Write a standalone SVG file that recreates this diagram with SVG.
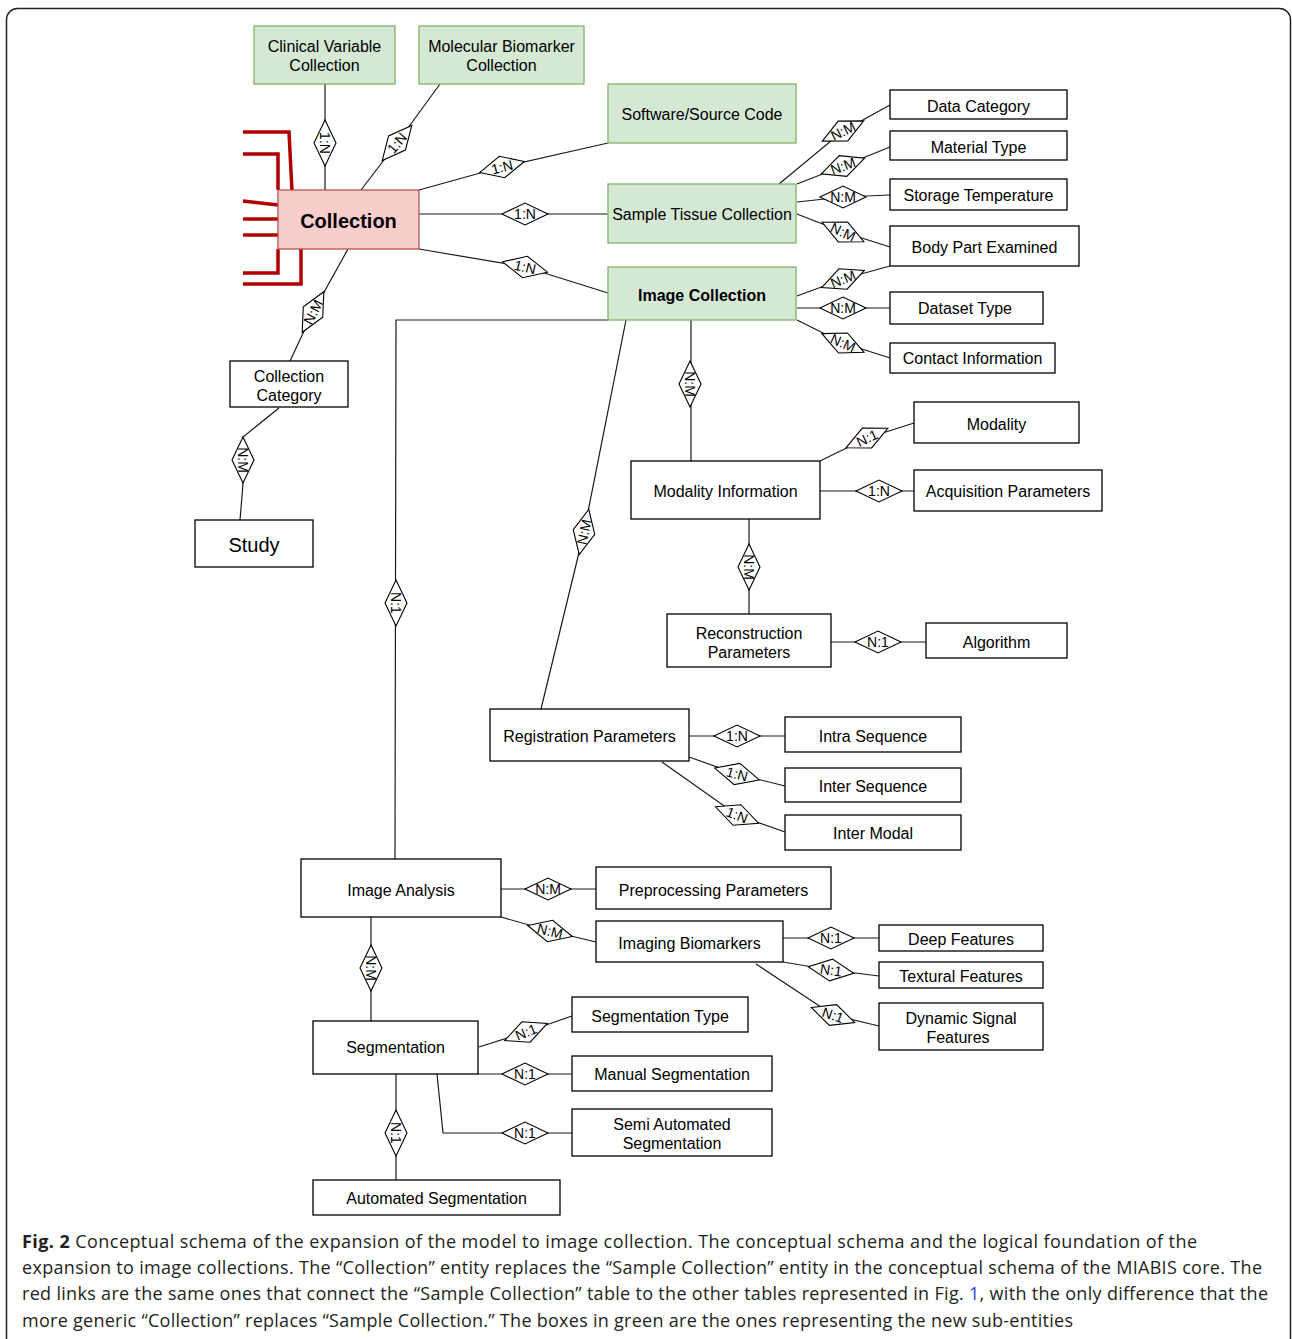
<svg xmlns="http://www.w3.org/2000/svg" xmlns:xlink="http://www.w3.org/1999/xlink" width="1292" height="1339" viewBox="0 0 1292 1339">
<style>
.g{fill:#d5e8d4;stroke:#82b366;stroke-width:1.3}
.p{fill:#f8cecc;stroke:#b85450;stroke-width:1.3}
.w{fill:#fff;stroke:#000;stroke-width:1.3}
.t{font-family:"Liberation Sans",Arial,Helvetica,sans-serif;font-size:16px;text-anchor:middle;fill:#000}
.b{font-weight:bold}
.ln{fill:none;stroke:#1a1a1a;stroke-width:1.2}
.red{fill:none;stroke:#b20000;stroke-width:3.5}
.dm{fill:#fff;stroke:#000;stroke-width:1.1}
.dl{font-family:"Liberation Sans",Arial,Helvetica,sans-serif;font-size:14px;text-anchor:middle;fill:#000}
.cap{font-family:"Open Sans","Noto Sans",sans-serif;font-size:18px;fill:#231f20}
</style>
<defs>
<polygon id="dmd" class="dm" points="-23,0 0,-11 23,0 0,11"/>
</defs>
<rect x="6.5" y="8.5" width="1284" height="1350" rx="11" fill="#fff" stroke="#222" stroke-width="1.5"/>

<g id="connectors">
<g id="red-links">
<polyline class="red" points="243,132 289,132 292,191"/>
<polyline class="red" points="243,154 278,154 278,190"/>
<polyline class="red" points="243,201 278,205"/>
<polyline class="red" points="243,219 278,219"/>
<polyline class="red" points="243,235 278,235"/>
<polyline class="red" points="243,273 278,273 278,249"/>
<polyline class="red" points="243,284 301,284 301,249"/>
</g>
<polyline class="ln" points="325,84 325,190"/>
<polyline class="ln" points="440,84 397,143 361,190"/>
<polyline class="ln" points="419,190 502,167 608,143"/>
<polyline class="ln" points="419,214 608,214"/>
<polyline class="ln" points="419,249 525,267 608,293"/>
<polyline class="ln" points="348,249 313,312 290,361"/>
<polyline class="ln" points="279,408 243,437 243,484 240,520"/>
<polyline class="ln" points="779,184 843,131 890,105"/>
<polyline class="ln" points="797,184 843,166 890,147"/>
<polyline class="ln" points="797,202 843,197 890,195"/>
<polyline class="ln" points="797,214 843,232 890,247"/>
<polyline class="ln" points="797,296 843,279 890,266"/>
<polyline class="ln" points="797,308 890,308"/>
<polyline class="ln" points="797,320 843,343 890,358"/>
<polyline class="ln" points="691,320 691,461"/>
<polyline class="ln" points="626,320 584,532 541,709"/>
<polyline class="ln" points="608,320 396,320 395,859"/>
<polyline class="ln" points="820,461 867,438 914,423"/>
<polyline class="ln" points="820,491 914,491"/>
<polyline class="ln" points="749,519 749,614"/>
<polyline class="ln" points="831,642 926,642"/>
<polyline class="ln" points="689,736 785,736"/>
<polyline class="ln" points="689,757 737,774 785,786"/>
<polyline class="ln" points="662,762 737,815 785,832"/>
<polyline class="ln" points="501,889 596,889"/>
<polyline class="ln" points="501,917 550,931 596,942"/>
<polyline class="ln" points="371,917 371,1021"/>
<polyline class="ln" points="783,938 879,938"/>
<polyline class="ln" points="783,962 831,970 879,976"/>
<polyline class="ln" points="756,964 833,1015 879,1026"/>
<polyline class="ln" points="479,1047 526,1032 572,1016"/>
<polyline class="ln" points="478,1074 572,1074"/>
<polyline class="ln" points="437,1074 443,1133 572,1133"/>
<polyline class="ln" points="396,1074 396,1180"/>

<g transform="translate(325,143) rotate(90)"><use href="#dmd"/><text class="dl" y="5">1:N</text></g>
<g transform="translate(397,143) rotate(-50)"><use href="#dmd"/><text class="dl" y="5">1:N</text></g>
<g transform="translate(502,167) rotate(-14)"><use href="#dmd"/><text class="dl" y="5">1:N</text></g>
<g transform="translate(525,214)"><use href="#dmd"/><text class="dl" y="5">1:N</text></g>
<g transform="translate(525,267) rotate(13)"><use href="#dmd"/><text class="dl" y="5">1:N</text></g>
<g transform="translate(313,312) rotate(-62)"><use href="#dmd"/><text class="dl" y="5">N:M</text></g>
<g transform="translate(243,460) rotate(90)"><use href="#dmd"/><text class="dl" y="5">N:M</text></g>
<g transform="translate(843,131) rotate(-26)"><use href="#dmd"/><text class="dl" y="5">N:M</text></g>
<g transform="translate(843,166) rotate(-20)"><use href="#dmd"/><text class="dl" y="5">N:M</text></g>
<g transform="translate(843,197)"><use href="#dmd"/><text class="dl" y="5">N:M</text></g>
<g transform="translate(843,232) rotate(25)"><use href="#dmd"/><text class="dl" y="5">N:M</text></g>
<g transform="translate(843,279) rotate(-22)"><use href="#dmd"/><text class="dl" y="5">N:M</text></g>
<g transform="translate(843,308)"><use href="#dmd"/><text class="dl" y="5">N:M</text></g>
<g transform="translate(843,343) rotate(24)"><use href="#dmd"/><text class="dl" y="5">N:M</text></g>
<g transform="translate(690,384) rotate(90)"><use href="#dmd"/><text class="dl" y="5">N:M</text></g>
<g transform="translate(584,532) rotate(-78)"><use href="#dmd"/><text class="dl" y="5">N:M</text></g>
<g transform="translate(396,603) rotate(90)"><use href="#dmd"/><text class="dl" y="5">N:1</text></g>
<g transform="translate(867,438) rotate(-25)"><use href="#dmd"/><text class="dl" y="5">N:1</text></g>
<g transform="translate(879,491)"><use href="#dmd"/><text class="dl" y="5">1:N</text></g>
<g transform="translate(749,567) rotate(90)"><use href="#dmd"/><text class="dl" y="5">N:M</text></g>
<g transform="translate(878,642)"><use href="#dmd"/><text class="dl" y="5">N:1</text></g>
<g transform="translate(737,736)"><use href="#dmd"/><text class="dl" y="5">1:N</text></g>
<g transform="translate(737,774) rotate(15)"><use href="#dmd"/><text class="dl" y="5">1:N</text></g>
<g transform="translate(737,815) rotate(21)"><use href="#dmd"/><text class="dl" y="5">1:N</text></g>
<g transform="translate(548,889)"><use href="#dmd"/><text class="dl" y="5">N:M</text></g>
<g transform="translate(550,931) rotate(14)"><use href="#dmd"/><text class="dl" y="5">N:M</text></g>
<g transform="translate(371,968) rotate(90)"><use href="#dmd"/><text class="dl" y="5">N:M</text></g>
<g transform="translate(831,938)"><use href="#dmd"/><text class="dl" y="5">N:1</text></g>
<g transform="translate(831,970) rotate(8)"><use href="#dmd"/><text class="dl" y="5">N:1</text></g>
<g transform="translate(833,1015) rotate(19)"><use href="#dmd"/><text class="dl" y="5">N:1</text></g>
<g transform="translate(526,1032) rotate(-22)"><use href="#dmd"/><text class="dl" y="5">N:1</text></g>
<g transform="translate(525,1074)"><use href="#dmd"/><text class="dl" y="5">N:1</text></g>
<g transform="translate(525,1133)"><use href="#dmd"/><text class="dl" y="5">N:1</text></g>
<g transform="translate(396,1133) rotate(90)"><use href="#dmd"/><text class="dl" y="5">N:1</text></g>
</g>

<g id="clinical-variable-collection"><rect class="g" x="254" y="26" width="141" height="58"/><text class="t" x="324.5" y="51.5">Clinical Variable</text><text class="t" x="324.5" y="70.5">Collection</text></g>
<g id="molecular-biomarker-collection"><rect class="g" x="419" y="26" width="165" height="58"/><text class="t" x="501.5" y="51.5">Molecular Biomarker</text><text class="t" x="501.5" y="70.5">Collection</text></g>
<g id="software-source-code"><rect class="g" x="608" y="84" width="188" height="59"/><text class="t" x="702" y="119.5">Software/Source Code</text></g>
<g id="sample-tissue-collection"><rect class="g" x="608" y="184" width="188" height="59"/><text class="t" x="702" y="219.5">Sample Tissue Collection</text></g>
<g id="image-collection"><rect class="g" x="608" y="267" width="188" height="53"/><text class="t b" x="702" y="300.5">Image Collection</text></g>
<g id="collection"><rect class="p" x="278" y="190" width="141" height="59"/><text class="t b" x="348.5" y="228" style="font-size:20px">Collection</text></g>
<g id="data-category"><rect class="w" x="890" y="90" width="177" height="29"/><text class="t" x="978.5" y="111.5">Data Category</text></g>
<g id="material-type"><rect class="w" x="890" y="131" width="177" height="29"/><text class="t" x="978.5" y="152.5">Material Type</text></g>
<g id="storage-temperature"><rect class="w" x="890" y="179" width="177" height="31"/><text class="t" x="978.5" y="201">Storage Temperature</text></g>
<g id="body-part-examined"><rect class="w" x="890" y="226" width="189" height="40"/><text class="t" x="984.5" y="252.5">Body Part Examined</text></g>
<g id="dataset-type"><rect class="w" x="890" y="292" width="153" height="32"/><text class="t" x="965" y="314">Dataset Type</text></g>
<g id="contact-information"><rect class="w" x="890" y="343" width="165" height="30"/><text class="t" x="972.5" y="364">Contact Information</text></g>
<g id="collection-category"><rect class="w" x="230" y="361" width="118" height="46"/><text class="t" x="289" y="381.5">Collection</text><text class="t" x="289" y="400.5">Category</text></g>
<g id="study"><rect class="w" x="195" y="520" width="118" height="47"/><text class="t" x="254" y="552" style="font-size:20px">Study</text></g>
<g id="modality"><rect class="w" x="914" y="402" width="165" height="41"/><text class="t" x="996.5" y="429.5">Modality</text></g>
<g id="modality-information"><rect class="w" x="631" y="461" width="189" height="58"/><text class="t" x="725.5" y="496.5">Modality Information</text></g>
<g id="acquisition-parameters"><rect class="w" x="914" y="470" width="188" height="41"/><text class="t" x="1008" y="496.5">Acquisition Parameters</text></g>
<g id="reconstruction-parameters"><rect class="w" x="667" y="614" width="164" height="53"/><text class="t" x="749" y="638.5">Reconstruction</text><text class="t" x="749" y="657.5">Parameters</text></g>
<g id="algorithm"><rect class="w" x="926" y="623" width="141" height="35"/><text class="t" x="996.5" y="647.5">Algorithm</text></g>
<g id="registration-parameters"><rect class="w" x="490" y="709" width="199" height="52"/><text class="t" x="589.5" y="741.5">Registration Parameters</text></g>
<g id="intra-sequence"><rect class="w" x="785" y="717" width="176" height="35"/><text class="t" x="873" y="741.5">Intra Sequence</text></g>
<g id="inter-sequence"><rect class="w" x="785" y="768" width="176" height="34"/><text class="t" x="873" y="791.5">Inter Sequence</text></g>
<g id="inter-modal"><rect class="w" x="785" y="815" width="176" height="35"/><text class="t" x="873" y="838.5">Inter Modal</text></g>
<g id="image-analysis"><rect class="w" x="301" y="859" width="200" height="58"/><text class="t" x="401" y="895.5">Image Analysis</text></g>
<g id="preprocessing-parameters"><rect class="w" x="596" y="867" width="235" height="42"/><text class="t" x="713.5" y="895.5">Preprocessing Parameters</text></g>
<g id="imaging-biomarkers"><rect class="w" x="596" y="921" width="187" height="41"/><text class="t" x="689.5" y="948.5">Imaging Biomarkers</text></g>
<g id="deep-features"><rect class="w" x="879" y="925" width="164" height="26"/><text class="t" x="961" y="944.5">Deep Features</text></g>
<g id="textural-features"><rect class="w" x="879" y="962" width="164" height="26"/><text class="t" x="961" y="981.5">Textural Features</text></g>
<g id="dynamic-signal-features"><rect class="w" x="879" y="1003" width="164" height="47"/><text class="t" x="961" y="1023.5">Dynamic Signal</text><text class="t" x="958" y="1042.5">Features</text></g>
<g id="segmentation-type"><rect class="w" x="572" y="997" width="176" height="35"/><text class="t" x="660" y="1021.5">Segmentation Type</text></g>
<g id="segmentation"><rect class="w" x="313" y="1021" width="165" height="53"/><text class="t" x="395.5" y="1052.5">Segmentation</text></g>
<g id="manual-segmentation"><rect class="w" x="572" y="1056" width="200" height="35"/><text class="t" x="672" y="1079.5">Manual Segmentation</text></g>
<g id="semi-automated-segmentation"><rect class="w" x="572" y="1109" width="200" height="47"/><text class="t" x="672" y="1129.5">Semi Automated</text><text class="t" x="672" y="1148.5">Segmentation</text></g>
<g id="automated-segmentation"><rect class="w" x="313" y="1180" width="247" height="35"/><text class="t" x="436.5" y="1203.5">Automated Segmentation</text></g>

<g id="caption">
<text class="cap" x="22" y="1248" textLength="1175"><tspan font-weight="bold">Fig. 2</tspan> Conceptual schema of the expansion of the model to image collection. The conceptual schema and the logical foundation of the</text>
<text class="cap" x="22" y="1274" textLength="1240">expansion to image collections. The “Collection” entity replaces the “Sample Collection” entity in the conceptual schema of the MIABIS core. The</text>
<text class="cap" x="22" y="1300" textLength="1246">red links are the same ones that connect the “Sample Collection” table to the other tables represented in Fig. <tspan fill="#2b3ee0">1</tspan>, with the only difference that the</text>
<text class="cap" x="22" y="1327" textLength="1051">more generic “Collection” replaces “Sample Collection.” The boxes in green are the ones representing the new sub-entities</text>
</g>
</svg>
